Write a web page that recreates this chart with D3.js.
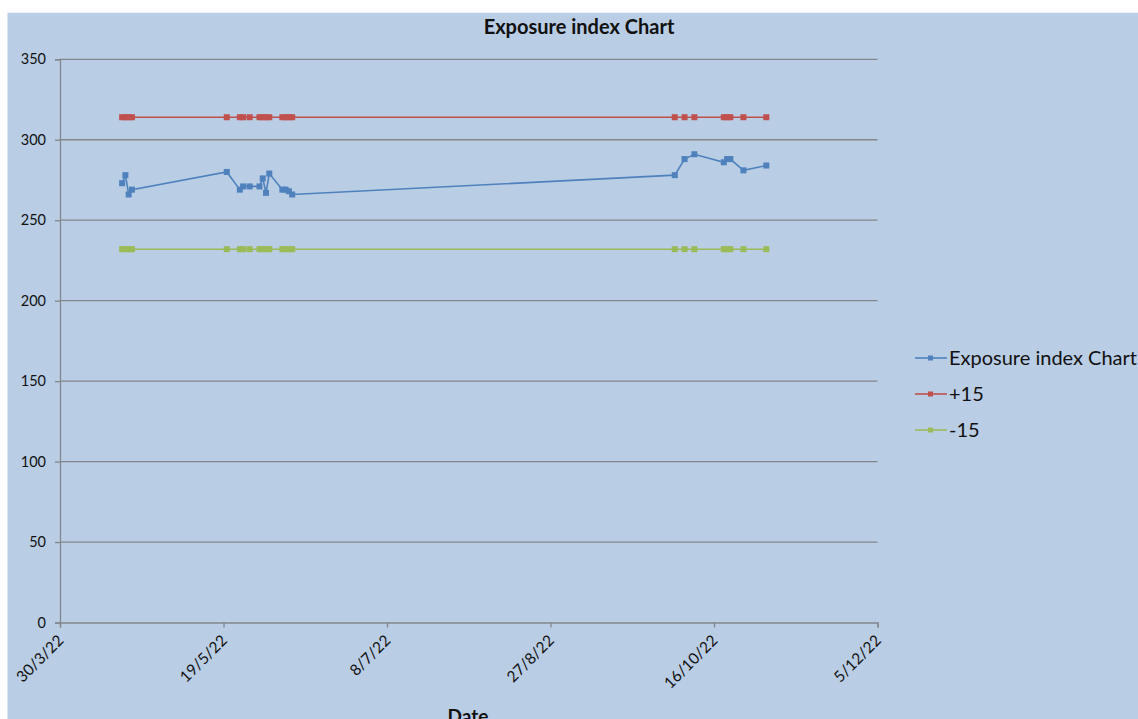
<!DOCTYPE html>
<html>
<head>
<meta charset="utf-8">
<script src="https://cdn.jsdelivr.net/npm/d3@7"></script>
<style>
  body { margin: 0; background: #fff; }
  text { font-family: Lato, "Open Sans", sans-serif; fill: #111; }
</style>
</head>
<body>
<div class="chart"></div>
<script>
// data
var dates = ["2022-04-18", "2022-04-19", "2022-04-20", "2022-04-21",
    "2022-05-20", "2022-05-24", "2022-05-25", "2022-05-27", "2022-05-30", "2022-05-31",
    "2022-06-01", "2022-06-02", "2022-06-06", "2022-06-07", "2022-06-08", "2022-06-09",
    "2022-10-04", "2022-10-07", "2022-10-10", "2022-10-19", "2022-10-20", "2022-10-21",
    "2022-10-25", "2022-11-01"];
var exposure = [273, 278, 266, 269,
    280, 269, 271, 271, 271, 276, 267, 279, 269, 269, 268, 266,
    278, 288, 291, 286, 288, 288, 281, 284];
var plus15 = [314, 314, 314, 314, 314, 314, 314, 314, 314, 314, 314, 314,
    314, 314, 314, 314, 314, 314, 314, 314, 314, 314, 314, 314];
var minus15 = [232, 232, 232, 232, 232, 232, 232, 232, 232, 232, 232, 232,
    232, 232, 232, 232, 232, 232, 232, 232, 232, 232, 232, 232];
var xTicks = ["2022-03-30", "2022-05-19", "2022-07-08", "2022-08-27", "2022-10-16", "2022-12-05"];
var yTicks = [0, 50, 100, 150, 200, 250, 300, 350];

var seriesNames = ["Exposure index Chart", "+15", "-15"];
var seriesValues = [exposure, plus15, minus15];
var seriesColors = ["#4f81bd", "#c0504d", "#9bbb59"];

var w = 1138;
var h = 719;
var parse = d3.utcParse("%Y-%m-%d");
var fmt = d3.utcFormat("%-d/%-m/%y");

var svg = d3.select(".chart")
    .append("svg")
    .attr("width", w)
    .attr("height", h);

// chart area
svg.append("rect")
    .attr("x", 7.5).attr("y", 12.7)
    .attr("width", w - 7.5).attr("height", h - 12.7)
    .attr("fill", "#b9cde5");

var x = d3.scaleUtc()
    .domain([parse(xTicks[0]), parse(xTicks[xTicks.length - 1])])
    .range([60, 877.5]);
var y = d3.scaleLinear()
    .domain([0, 350])
    .range([622.5, 59.3]);

// gridlines
svg.append("g")
    .selectAll("line")
    .data(yTicks.slice(1))
    .enter().append("line")
    .attr("x1", x.range()[0]).attr("x2", x.range()[1])
    .attr("y1", function (d) { return y(d); })
    .attr("y2", function (d) { return y(d); })
    .attr("stroke", "#83878c")
    .attr("stroke-width", 1.3);

// y axis
var yAxis = svg.append("g")
    .attr("transform", "translate(" + x.range()[0] + ",0)")
    .call(d3.axisLeft(y).tickValues(yTicks).tickSize(5).tickPadding(9));
yAxis.selectAll("path, line").attr("stroke", "#83878c").attr("stroke-width", 1.3);
yAxis.selectAll("text").attr("font-size", 14.5).attr("font-family", "Lato").attr("fill", "#111");

// x axis
var xAxis = svg.append("g")
    .attr("transform", "translate(0," + y(0) + ")")
    .call(d3.axisBottom(x).tickValues(xTicks.map(parse)).tickSize(5).tickFormat(fmt));
xAxis.select(".domain").attr("stroke", "#83878c").attr("stroke-width", 1.3);
xAxis.selectAll("line").attr("stroke", "#83878c").attr("stroke-width", 1.3);
xAxis.selectAll("text")
    .attr("font-size", 15.5)
    .attr("font-family", "Lato")
    .attr("fill", "#111")
    .attr("text-anchor", "end")
    .attr("dy", null)
    .attr("y", null)
    .attr("transform", "translate(4,19) rotate(-45)");

// series
var line = d3.line()
    .x(function (d, i) { return x(parse(dates[i])); })
    .y(function (d) { return y(d); });

seriesValues.forEach(function (vals, k) {
    var g = svg.append("g");
    g.append("path")
        .attr("d", line(vals))
        .attr("fill", "none")
        .attr("stroke", seriesColors[k])
        .attr("stroke-width", 1.6);
    g.selectAll("rect")
        .data(vals)
        .enter().append("rect")
        .attr("x", function (d, i) { return x(parse(dates[i])) - 3; })
        .attr("y", function (d) { return y(d) - 3; })
        .attr("width", 6).attr("height", 6)
        .attr("fill", seriesColors[k]);
});

// title
svg.append("text")
    .text("Exposure index Chart")
    .attr("x", 579).attr("y", 33.5)
    .attr("text-anchor", "middle")
    .attr("font-size", 20)
    .attr("font-weight", "bold");

// x axis title
svg.append("text")
    .text("Date")
    .attr("x", 468).attr("y", 723)
    .attr("text-anchor", "middle")
    .attr("font-size", 19)
    .attr("font-weight", "bold");

// legend
var legend = svg.append("g");
seriesNames.forEach(function (name, k) {
    var ly = 358 + k * 36;
    legend.append("line")
        .attr("x1", 915).attr("x2", 947)
        .attr("y1", ly).attr("y2", ly)
        .attr("stroke", seriesColors[k])
        .attr("stroke-width", 1.6);
    legend.append("rect")
        .attr("x", 928).attr("y", ly - 2.5)
        .attr("width", 5).attr("height", 5)
        .attr("fill", seriesColors[k]);
    legend.append("text")
        .text(name)
        .attr("x", 949).attr("y", ly + 7)
        .attr("font-size", 20);
});
</script>
</body>
</html>
